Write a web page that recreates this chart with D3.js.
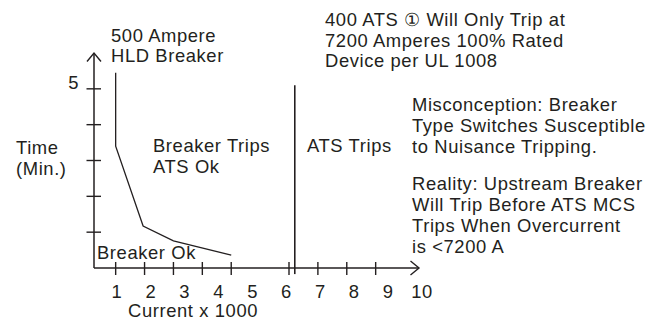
<!DOCTYPE html>
<html>
<head>
<meta charset="utf-8">
<script src="https://cdn.jsdelivr.net/npm/d3@7/dist/d3.min.js"></script>
<style>
  html, body { margin: 0; padding: 0; background: #ffffff; }
  svg { display: block; }
  text { font-family: "Liberation Sans", Arial, Helvetica, sans-serif; font-size: 18.4px; fill: #231f20; letter-spacing: 0.6px; }
</style>
</head>
<body>
<script>
// Breaker trip curve (current in thousands of amperes, time in minutes)
const breakerCurrent = [1, 1, 1.95, 3, 5];
const breakerTime    = [5.45, 3.4, 1.17, 0.76, 0.36];

// ATS withstand / trip threshold (x 1000 A)
const atsTripCurrent = 7.2;
const atsLineTime = [5.1, -0.17];

// Axis ticks and labels
const xTickValues = [1, 2, 3, 4, 5, 7, 8, 9, 10];
const xTickLabels = ["1", "2", "3", "4", "5", "6", "7", "8", "9", "10"];
const yTickValues = [1, 2, 3, 4, 5];
const yTickLabels = ["5"];

const W = 660, H = 321;
const ink = "#231f20";

const svg = d3.select("body").append("svg")
  .attr("width", W).attr("height", H);

const x = d3.scaleLinear().domain([0.25, 11.5]).range([94, 419]);
const y = d3.scaleLinear().domain([0, 6]).range([268, 53]);
const xLabel = d3.scalePoint().domain(xTickLabels).range([117, 422]);

const x0 = x.domain()[0], y0 = y.domain()[0];
const xEnd = x.domain()[1], yEnd = y.domain()[1];

// Axes lines
svg.append("line")
  .attr("x1", x(x0)).attr("y1", y(y0)).attr("x2", x(xEnd)).attr("y2", y(y0))
  .attr("stroke", ink).attr("stroke-width", 1.5);
svg.append("line")
  .attr("x1", x(x0)).attr("y1", y(y0)).attr("x2", x(x0)).attr("y2", y(yEnd))
  .attr("stroke", ink).attr("stroke-width", 1.5);

// Open arrowheads
svg.append("path")
  .attr("d", `M${x(x0) - 7},${y(yEnd) + 8.5} L${x(x0)},${y(yEnd)} L${x(x0) + 7},${y(yEnd) + 8.5}`)
  .attr("fill", "none").attr("stroke", ink).attr("stroke-width", 1.4);
svg.append("path")
  .attr("d", `M${x(xEnd) - 8.5},${y(y0) - 7} L${x(xEnd)},${y(y0)} L${x(xEnd) - 8.5},${y(y0) + 7}`)
  .attr("fill", "none").attr("stroke", ink).attr("stroke-width", 1.4);

// Tick marks crossing the axes
svg.append("g").selectAll("line").data(xTickValues).join("line")
  .attr("x1", d => x(d)).attr("x2", d => x(d))
  .attr("y1", y(y0) - 6).attr("y2", y(y0) + 7)
  .attr("stroke", ink).attr("stroke-width", 1.4);
svg.append("g").selectAll("line").data(yTickValues).join("line")
  .attr("y1", d => y(d)).attr("y2", d => y(d))
  .attr("x1", x(x0) - 7.5).attr("x2", x(x0) + 7)
  .attr("stroke", ink).attr("stroke-width", 1.4);

// Tick labels
svg.append("g").selectAll("text").data(xTickLabels).join("text")
  .attr("x", d => xLabel(d)).attr("y", 297.5)
  .attr("text-anchor", "middle").text(d => d);
svg.append("g").selectAll("text").data(yTickLabels).join("text")
  .attr("x", x(x0) - 15).attr("y", d => y(+d) + 0.5)
  .attr("text-anchor", "end").text(d => d);

// Breaker curve
const curve = d3.line().x(d => x(d[0])).y(d => y(d[1]));
svg.append("path")
  .attr("d", curve(d3.zip(breakerCurrent, breakerTime)))
  .attr("fill", "none").attr("stroke", ink).attr("stroke-width", 1.3);

// ATS trip threshold
svg.append("line")
  .attr("x1", x(atsTripCurrent)).attr("x2", x(atsTripCurrent))
  .attr("y1", y(atsLineTime[0])).attr("y2", y(atsLineTime[1]))
  .attr("stroke", ink).attr("stroke-width", 1.6);

// Annotation blocks
function block(lines, px, py, lh) {
  const t = svg.append("text").attr("x", px).attr("y", py);
  lines.forEach((s, i) => {
    t.append("tspan").attr("x", px).attr("y", py + i * lh).text(s);
  });
}

block(["500 Ampere", "HLD Breaker"], 111, 41.5, 20.5);
block(["400 ATS \u2460 Will Only Trip at", "7200 Amperes 100% Rated", "Device per UL 1008"], 325, 26, 20.5);
block(["Misconception: Breaker", "Type Switches Susceptible", "to Nuisance Tripping."], 412, 110.5, 21);
block(["Reality: Upstream Breaker", "Will Trip Before ATS MCS", "Trips When Overcurrent", "is <7200 A"], 412, 189.5, 21);
block(["Breaker Trips", "ATS Ok"], 153, 151.5, 21);
block(["ATS Trips"], 307, 152, 21);
block(["Time", "(Min.)"], 16, 153.5, 21);
block(["Breaker Ok"], 97, 259, 21);
block(["Current x 1000"], 128, 316.5, 21);
</script>
</body>
</html>
